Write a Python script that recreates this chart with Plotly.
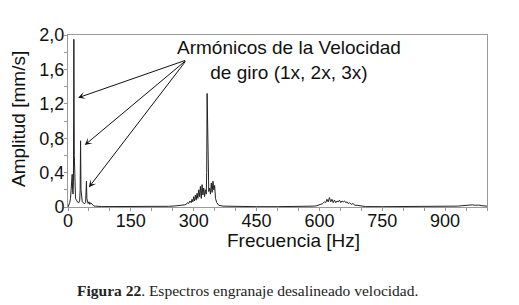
import plotly.graph_objects as go

# ---- data ----
freq_hz = [0, 2, 4, 6, 8, 9, 10, 11, 12, 13, 14, 15, 16, 17, 18, 20, 22, 24, 26, 28,
           29, 30, 31, 32, 34, 36, 38, 40, 42, 43, 44, 45, 46, 47, 48, 50, 52, 54, 56,
           58, 60, 62, 65, 70, 80, 100, 130, 160, 190, 220, 240, 255, 265, 272, 278,
           282, 285, 288, 291, 294, 296, 298, 300, 302, 304, 306, 308, 310, 312, 314,
           316, 318, 320, 322, 324, 326, 328, 330, 331, 332, 334, 336, 338, 340, 342,
           344, 346, 348, 350, 352, 355, 360, 370, 400, 450, 500, 550, 580, 588, 594,
           600, 604, 608, 612, 615, 618, 621, 624, 627, 630, 633, 636, 639, 642, 645,
           648, 651, 654, 657, 660, 663, 666, 669, 672, 676, 680, 685, 690, 700, 710,
           750, 800, 850, 900, 930, 940, 950, 958, 965, 972, 980, 988, 995, 1000]
amplitude = [0.0, 0.02, 0.05, 0.1, 0.2, 0.3, 0.38, 0.2, 0.15, 0.3, 1.95, 0.6, 0.2, 0.12,
             0.1, 0.08, 0.06, 0.05, 0.05, 0.08, 0.2, 0.77, 0.2, 0.1, 0.06, 0.05, 0.04,
             0.04, 0.05, 0.12, 0.3, 0.1, 0.06, 0.05, 0.04, 0.06, 0.03, 0.05, 0.04, 0.02,
             0.02, 0.01, 0.01, 0.006, 0.005, 0.005, 0.004, 0.005, 0.004, 0.006, 0.008,
             0.012, 0.015, 0.02, 0.025, 0.03, 0.05, 0.04, 0.07, 0.05, 0.09, 0.06, 0.12,
             0.07, 0.14, 0.08, 0.16, 0.1, 0.2, 0.12, 0.24, 0.1, 0.26, 0.14, 0.22, 0.12,
             0.2, 0.15, 0.4, 1.32, 0.5, 0.18, 0.22, 0.15, 0.28, 0.17, 0.3, 0.2, 0.25,
             0.1, 0.05, 0.02, 0.01, 0.005, 0.004, 0.004, 0.005, 0.006, 0.01, 0.015,
             0.025, 0.03, 0.04, 0.06, 0.05, 0.09, 0.06, 0.11, 0.06, 0.09, 0.05, 0.08,
             0.05, 0.07, 0.06, 0.08, 0.05, 0.07, 0.06, 0.07, 0.05, 0.06, 0.04, 0.05,
             0.03, 0.04, 0.02, 0.02, 0.01, 0.005, 0.004, 0.004, 0.005, 0.006, 0.01,
             0.015, 0.02, 0.018, 0.025, 0.02, 0.022, 0.015, 0.012, 0.01]

x_tick_vals = [0, 150, 300, 450, 600, 750, 900]
x_tick_text = ["0", "150", "300", "450", "600", "750", "900"]
y_tick_vals = [0, 0.4, 0.8, 1.2, 1.6, 2.0]
y_tick_text = ["0", "0,4", "0,8", "1,2", "1,6", "2,0"]

# harmonic arrow targets (freq, amplitude) and common tail
arrow_tips_x = [24, 40, 50]
arrow_tips_y = [1.27, 0.72, 0.23]
arrow_tail = (283, 1.71)

font_sans = "Liberation Sans, Arial, sans-serif"

# the page body adds an 8 px offset; size the figure so the visible result is 519x305
OFF = 8
W, H = 519 - OFF, 305 - OFF
pl, pr, pt, pb = 68 - OFF, 32, 35 - OFF, 98
pw, ph = W - pl - pr, H - pt - pb

fig = go.Figure()
fig.add_trace(go.Scatter(x=freq_hz, y=amplitude, mode="lines",
                         line=dict(color="#222222", width=1), showlegend=False,
                         hoverinfo="skip"))

fig.update_layout(
    width=W, height=H,
    margin=dict(l=pl, r=pr, t=pt, b=pb, autoexpand=False),
    paper_bgcolor="white", plot_bgcolor="white",
    font=dict(family=font_sans, size=18, color="#111111"),
    xaxis=dict(range=[0, 1000], tickvals=x_tick_vals, ticktext=x_tick_text,
               automargin=False, ticklabelstandoff=-6,
               showgrid=False, zeroline=False, showline=True, linecolor="#999999",
               linewidth=1, mirror=True, ticks="outside", ticklen=3, tickcolor="#999999",
               tickfont=dict(size=18, family=font_sans, color="#111111"),
               minor=dict(dtick=50, ticks="outside", ticklen=3, tickcolor="#999999")),
    yaxis=dict(range=[0, 2.0], tickvals=y_tick_vals, ticktext=y_tick_text,
               automargin=False, ticklabelstandoff=-4,
               showgrid=False, zeroline=False, showline=True, linecolor="#999999",
               linewidth=1, mirror=True, ticks="outside", ticklen=3, tickcolor="#999999",
               tickfont=dict(size=18, family=font_sans, color="#111111"),
               minor=dict(tickvals=[0.2, 0.6, 1.0, 1.4, 1.8], ticks="outside",
                          ticklen=3, tickcolor="#999999")),
)

annotations = []
for tx, ty in zip(arrow_tips_x, arrow_tips_y):
    annotations.append(dict(x=tx, y=ty, xref="x", yref="y",
                            ax=arrow_tail[0], ay=arrow_tail[1], axref="x", ayref="y",
                            showarrow=True, arrowhead=3, arrowsize=1.2, arrowwidth=1,
                            arrowcolor="#111111", text=""))
# text positions given in reference-page pixels
annotations.append(dict(x=288.5, y=60, text="Armónicos de la Velocidad<br>de giro (1x, 2x, 3x)",
                        showarrow=False, align="center",
                        font=dict(size=19, family=font_sans, color="#111111")))
annotations.append(dict(x=293.5, y=241, text="Frecuencia [Hz]",
                        showarrow=False, font=dict(size=19, family=font_sans, color="#111111")))
annotations.append(dict(x=18, y=119, text="Amplitud [mm/s]", textangle=-90, showarrow=False,
                        font=dict(size=19, family=font_sans, color="#111111")))
annotations.append(dict(x=247, y=290,
                        text="<b>Figura 22</b>. Espectros engranaje desalineado velocidad.",
                        showarrow=False,
                        font=dict(size=15.5, family="Liberation Serif, Times New Roman, serif",
                                  color="#222222")))

for a in annotations[-4:]:
    px, py = a["x"] - OFF, a["y"] - OFF
    a["x"] = (px - pl) / pw
    a["y"] = (H - pb - py) / ph
    a["xref"] = "paper"
    a["yref"] = "paper"
    a["xanchor"] = "center"
    a["yanchor"] = "middle"

fig.update_layout(annotations=annotations)
fig.write_html("out.html")
